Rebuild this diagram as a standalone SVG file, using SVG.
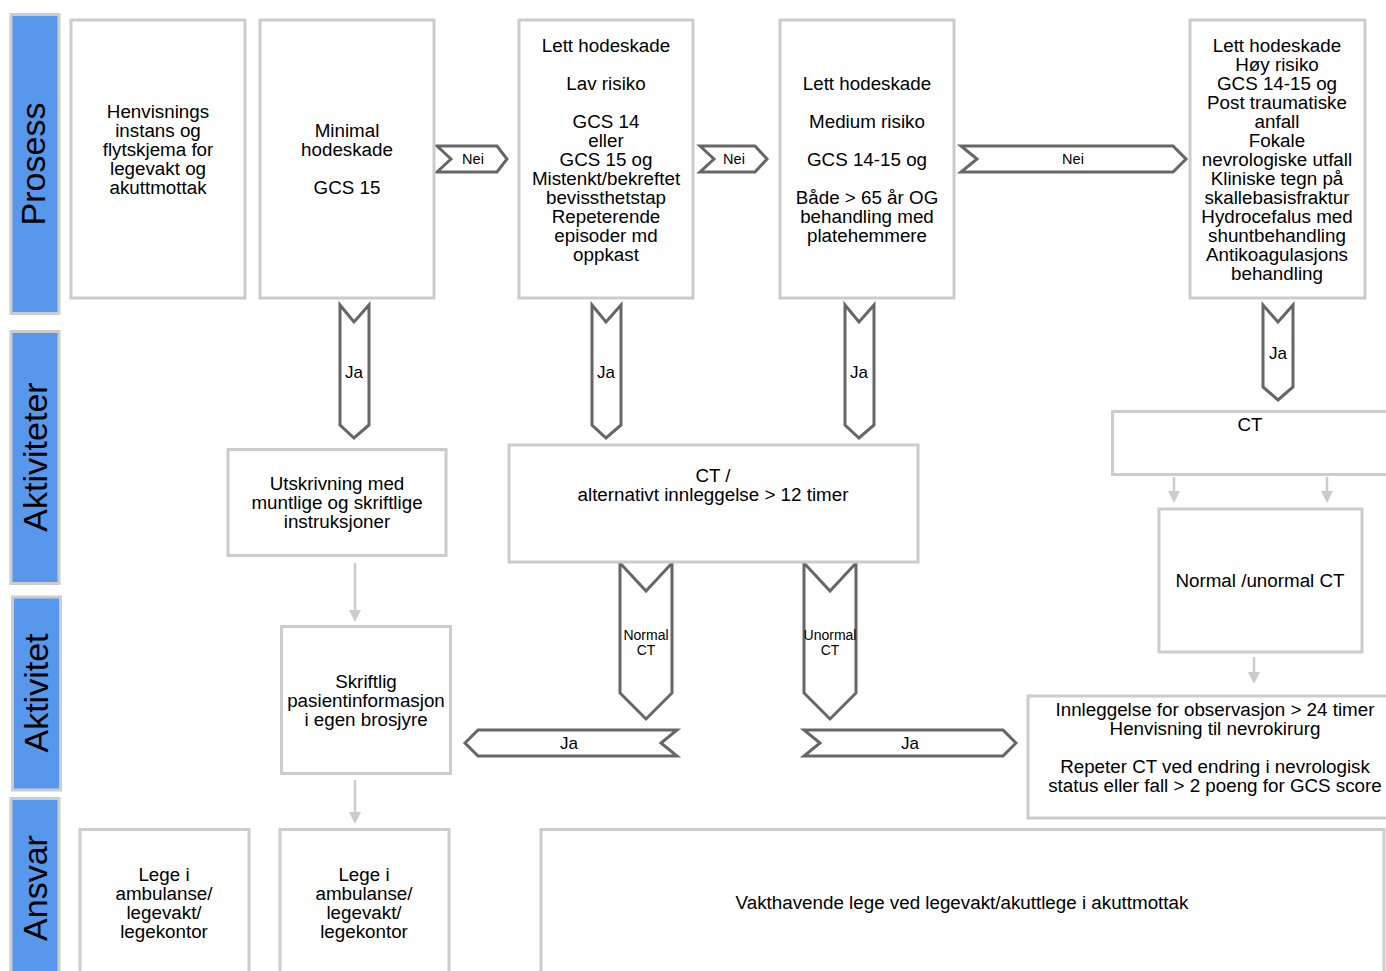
<svg xmlns="http://www.w3.org/2000/svg" width="1386" height="971" viewBox="0 0 1386 971">
<style>
.lane{fill:#5797ec;stroke:#cccccc;stroke-width:3}
.box{fill:#ffffff;stroke:#cccccc;stroke-width:3}
.chev{fill:#ffffff;stroke:#666666;stroke-width:3;stroke-linejoin:miter}
.conn{stroke:#cccccc;stroke-width:2.5;fill:none}
text{font-family:"Liberation Sans",Arial,sans-serif;fill:#000000;text-anchor:middle}
.t{font-size:18.8px}
.lt{font-size:34px}
.nei{font-size:14.5px}
.ja{font-size:17px}
.sm{font-size:14px}
</style>
<defs>
<marker id="ah" markerUnits="userSpaceOnUse" markerWidth="12" markerHeight="12" refX="6" refY="6" orient="auto">
<path d="M0,0 L12,6 L0,12 z" fill="#cccccc"/>
</marker>
</defs>
<rect width="1386" height="971" fill="#ffffff"/>

<g id="lane-prosess">
<rect class="lane" x="11" y="14.5" width="48" height="299"/>
<text class="lt" transform="translate(45,164) rotate(-90)">Prosess</text>
</g>
<g id="lane-aktiviteter">
<rect class="lane" x="11" y="331.5" width="48" height="252"/>
<text class="lt" transform="translate(47,457) rotate(-90)">Aktiviteter</text>
</g>
<g id="lane-aktivitet">
<rect class="lane" x="12.5" y="597" width="48" height="193"/>
<text class="lt" transform="translate(48,693) rotate(-90)">Aktivitet</text>
</g>
<g id="lane-ansvar">
<rect class="lane" x="11" y="798.5" width="48" height="190"/>
<text class="lt" transform="translate(47,888) rotate(-90)">Ansvar</text>
</g>

<g id="connectors">
<line class="conn" x1="355" y1="563" x2="355" y2="616" marker-end="url(#ah)"/>
<line class="conn" x1="355" y1="780" x2="355" y2="818" marker-end="url(#ah)"/>
<line class="conn" x1="1174" y1="477" x2="1174" y2="497" marker-end="url(#ah)"/>
<line class="conn" x1="1327" y1="477" x2="1327" y2="497" marker-end="url(#ah)"/>
<line class="conn" x1="1254" y1="657" x2="1254" y2="678" marker-end="url(#ah)"/>

<g id="nei1">
<polygon class="chev" points="437,146 497,146 507,159 497,172 437,172 451,159"/>
<text class="nei" x="473" y="164">Nei</text>
</g>
<g id="nei2">
<polygon class="chev" points="700,146 755,146 767,159 755,172 700,172 714,159"/>
<text class="nei" x="734" y="164">Nei</text>
</g>
<g id="nei3">
<polygon class="chev" points="961,146 1173,146 1186,159 1173,172 961,172 977,159"/>
<text class="nei" x="1073" y="164">Nei</text>
</g>
<g id="ja1">
<polygon class="chev" points="340,305 354,322 369,305 369,425 354,438 340,425"/>
<text class="ja" x="354" y="378">Ja</text>
</g>
<g id="ja2">
<polygon class="chev" points="592,305 606,322 621,305 621,425 606,438 592,425"/>
<text class="ja" x="606" y="378">Ja</text>
</g>
<g id="ja3">
<polygon class="chev" points="845,305 859,322 874,305 874,425 859,438 845,425"/>
<text class="ja" x="859" y="378">Ja</text>
</g>
<g id="ja4">
<polygon class="chev" points="1263,305 1278,322 1293,305 1293,387 1278,400 1263,387"/>
<text class="ja" x="1278" y="359">Ja</text>
</g>
<g id="normal-ct">
<polygon class="chev" points="620,563 646,591 672,563 672,693 646,719 620,693"/>
<text class="sm" x="646" y="640">Normal</text>
<text class="sm" x="646" y="655">CT</text>
</g>
<g id="unormal-ct">
<polygon class="chev" points="804,563 830,591 856,563 856,693 830,719 804,693"/>
<text class="sm" x="830" y="640">Unormal</text>
<text class="sm" x="830" y="655">CT</text>
</g>
<g id="ja-left">
<polygon class="chev" points="465,743 478,730 677,730 661,743 677,756 478,756"/>
<text class="ja" x="569" y="749">Ja</text>
</g>
<g id="ja-right">
<polygon class="chev" points="804,730 1003,730 1016,743 1003,756 804,756 820,743"/>
<text class="ja" x="910" y="749">Ja</text>
</g>
</g>

<g id="box-henvisning">
<rect class="box" x="71" y="20" width="174" height="278"/>
<text class="t"><tspan x="158" y="118">Henvisnings</tspan><tspan x="158" y="137">instans og</tspan><tspan x="158" y="156">flytskjema for</tspan><tspan x="158" y="175">legevakt og</tspan><tspan x="158" y="194">akuttmottak</tspan></text>
</g>
<g id="box-minimal">
<rect class="box" x="260" y="20" width="174" height="278"/>
<text class="t"><tspan x="347" y="137">Minimal</tspan><tspan x="347" y="156">hodeskade</tspan><tspan x="347" y="194">GCS 15</tspan></text>
</g>
<g id="box-lav">
<rect class="box" x="519" y="20" width="174" height="278"/>
<text class="t"><tspan x="606" y="52">Lett hodeskade</tspan><tspan x="606" y="90">Lav risiko</tspan><tspan x="606" y="128">GCS 14</tspan><tspan x="606" y="147">eller</tspan><tspan x="606" y="166">GCS 15 og</tspan><tspan x="606" y="185">Mistenkt/bekreftet</tspan><tspan x="606" y="204">bevissthetstap</tspan><tspan x="606" y="223">Repeterende</tspan><tspan x="606" y="242">episoder md</tspan><tspan x="606" y="261">oppkast</tspan></text>
</g>
<g id="box-medium">
<rect class="box" x="780" y="20" width="174" height="278"/>
<text class="t"><tspan x="867" y="90">Lett hodeskade</tspan><tspan x="867" y="128">Medium risiko</tspan><tspan x="867" y="166">GCS 14-15 og</tspan><tspan x="867" y="204">Både &gt; 65 år OG</tspan><tspan x="867" y="223">behandling med</tspan><tspan x="867" y="242">platehemmere</tspan></text>
</g>
<g id="box-hoy">
<rect class="box" x="1190" y="20" width="175" height="278"/>
<text class="t"><tspan x="1277" y="52">Lett hodeskade</tspan><tspan x="1277" y="71">Høy risiko</tspan><tspan x="1277" y="90">GCS 14-15 og</tspan><tspan x="1277" y="109">Post traumatiske</tspan><tspan x="1277" y="128">anfall</tspan><tspan x="1277" y="147">Fokale</tspan><tspan x="1277" y="166">nevrologiske utfall</tspan><tspan x="1277" y="185">Kliniske tegn på</tspan><tspan x="1277" y="204">skallebasisfraktur</tspan><tspan x="1277" y="223">Hydrocefalus med</tspan><tspan x="1277" y="242">shuntbehandling</tspan><tspan x="1277" y="261">Antikoagulasjons</tspan><tspan x="1277" y="280">behandling</tspan></text>
</g>

<g id="box-utskrivning">
<rect class="box" x="228" y="449.5" width="218" height="106"/>
<text class="t"><tspan x="337" y="490">Utskrivning med</tspan><tspan x="337" y="509">muntlige og skriftlige</tspan><tspan x="337" y="528">instruksjoner</tspan></text>
</g>
<g id="box-ct-alt">
<rect class="box" x="509" y="445" width="409" height="117"/>
<text class="t"><tspan x="713" y="482">CT /</tspan><tspan x="713" y="501">alternativt innleggelse &gt; 12 timer</tspan></text>
</g>
<g id="box-ct">
<rect class="box" x="1112.5" y="411.5" width="290" height="63"/>
<text class="t" x="1250" y="431">CT</text>
</g>
<g id="box-normal-unormal">
<rect class="box" x="1159" y="509" width="203" height="143"/>
<text class="t" x="1260" y="587">Normal /unormal CT</text>
</g>
<g id="box-innleggelse">
<rect class="box" x="1028" y="696" width="376" height="122"/>
<text class="t"><tspan x="1215" y="716">Innleggelse for observasjon &gt; 24 timer</tspan><tspan x="1215" y="735">Henvisning til nevrokirurg</tspan><tspan x="1215" y="773">Repeter CT ved endring i nevrologisk</tspan><tspan x="1215" y="792">status eller fall &gt; 2 poeng for GCS score</tspan></text>
</g>
<g id="box-skriftlig">
<rect class="box" x="281.5" y="626.5" width="169" height="147"/>
<text class="t"><tspan x="366" y="688">Skriftlig</tspan><tspan x="366" y="707">pasientinformasjon</tspan><tspan x="366" y="726">i egen brosjyre</tspan></text>
</g>

<g id="box-lege1">
<rect class="box" x="80" y="829.5" width="169" height="160"/>
<text class="t"><tspan x="164" y="881">Lege i</tspan><tspan x="164" y="900">ambulanse/</tspan><tspan x="164" y="919">legevakt/</tspan><tspan x="164" y="938">legekontor</tspan></text>
</g>
<g id="box-lege2">
<rect class="box" x="280" y="829.5" width="169" height="160"/>
<text class="t"><tspan x="364" y="881">Lege i</tspan><tspan x="364" y="900">ambulanse/</tspan><tspan x="364" y="919">legevakt/</tspan><tspan x="364" y="938">legekontor</tspan></text>
</g>
<g id="box-vakthavende">
<rect class="box" x="541" y="829.5" width="843" height="160"/>
<text class="t" x="962" y="909">Vakthavende lege ved legevakt/akuttlege i akuttmottak</text>
</g>
</svg>
